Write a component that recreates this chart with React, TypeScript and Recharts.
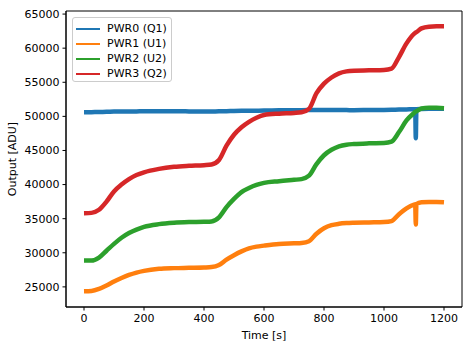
import React from 'react';
import { LineChart, Line, XAxis, YAxis, ReferenceArea } from 'recharts';

// time in seconds
const times = [
  0, 25, 50, 75, 100, 125, 150, 175, 200, 250, 300, 350, 400, 425, 450, 475, 500, 525, 550, 575,
  600, 650, 700, 725, 750, 775, 800, 825, 850, 875, 900, 950, 1000, 1025, 1050, 1075, 1100, 1104,
  1106, 1108, 1125, 1150, 1175, 1200,
];

const pwr0 = [
  50600, 50620, 50650, 50660, 50700, 50700, 50720, 50730, 50750, 50750, 50750, 50730, 50700, 50720,
  50740, 50760, 50800, 50820, 50830, 50840, 50850, 50880, 50900, 50910, 50920, 50930, 50950, 50940,
  50930, 50920, 50900, 50930, 50950, 50970, 51000, 51020, 51050, 51050, 46800, 51050, 51080, 51100,
  51100, 51100,
];

const pwr1 = [
  24350, 24400, 24700, 25200, 25800, 26300, 26750, 27100, 27350, 27650, 27750, 27800, 27850, 27900,
  28200, 29000, 29650, 30200, 30650, 30900, 31050, 31300, 31400, 31450, 31700, 32800, 33600, 34050,
  34250, 34350, 34400, 34450, 34500, 34650, 35650, 36500, 37050, 37100, 34150, 37150, 37400, 37450,
  37450, 37400,
];

const pwr2 = [
  28850, 28850, 29300, 30300, 31300, 32200, 32900, 33400, 33800, 34200, 34400, 34500, 34550, 34600,
  35200, 36700, 37900, 38900, 39500, 39950, 40250, 40500, 40700, 40800, 41300, 43000, 44300, 45100,
  45600, 45850, 45950, 46050, 46100, 46300, 47700, 49400, 50500, 50650, 50700, 50750, 51150, 51250,
  51250, 51200,
];

const pwr3 = [
  35800, 35850, 36300, 37500, 39000, 40000, 40800, 41400, 41800, 42300, 42600, 42750, 42850, 42950,
  43600, 45700, 47300, 48400, 49200, 49800, 50200, 50400, 50500, 50600, 51100, 53400, 54800, 55700,
  56300, 56600, 56700, 56750, 56800, 57000, 58700, 60700, 62100, 62250, 62300, 62350, 62900, 63150,
  63200, 63200,
];

const xTicks = [0, 200, 400, 600, 800, 1000, 1200];
const yTicks = [25000, 30000, 35000, 40000, 45000, 50000, 55000, 60000, 65000];
const xDomain = [-60, 1260];
const yDomain = [22050, 65450];

const series = [
  { key: 'pwr0', name: 'PWR0 (Q1)', color: '#1f77b4' },
  { key: 'pwr1', name: 'PWR1 (U1)', color: '#ff7f0e' },
  { key: 'pwr2', name: 'PWR2 (U2)', color: '#2ca02c' },
  { key: 'pwr3', name: 'PWR3 (Q2)', color: '#d62728' },
];

const data = times.map((t, i) => ({
  t,
  pwr0: pwr0[i],
  pwr1: pwr1[i],
  pwr2: pwr2[i],
  pwr3: pwr3[i],
}));

const font = 'DejaVu Sans, sans-serif';
const tickStyle = { fontSize: 11, fill: '#000', fontFamily: font };

const App: React.FC = () => {
  return (
    <div style={{ position: 'absolute', left: 0, top: 0, width: 473, height: 347, background: '#fff' }}>
      <LineChart
        width={473}
        height={347}
        data={data}
        margin={{ top: 11, right: 11, left: 0, bottom: 0 }}
      >
        <XAxis
          dataKey="t"
          type="number"
          domain={xDomain}
          ticks={xTicks}
          tick={tickStyle}
          tickSize={3.5}
          tickMargin={4}
          height={40}
          stroke="#000"
          allowDataOverflow
          label={{ value: 'Time [s]', position: 'insideBottom', offset: 8, style: { ...tickStyle, textAnchor: 'middle' } }}
        />
        <YAxis
          type="number"
          domain={yDomain}
          ticks={yTicks}
          tick={tickStyle}
          tickSize={3.5}
          tickMargin={3}
          width={66}
          stroke="#000"
          allowDataOverflow
          label={{ value: 'Output [ADU]', angle: -90, position: 'insideLeft', offset: 12, style: { ...tickStyle, textAnchor: 'middle' } }}
        />
        {series.map((s) => (
          <Line
            key={s.key}
            dataKey={s.key}
            name={s.name}
            stroke={s.color}
            strokeWidth={4.5}
            dot={false}
            type="monotone"
            isAnimationActive={false}
          />
        ))}
        <ReferenceArea
          x1={xDomain[0]}
          x2={xDomain[1]}
          y1={yDomain[0]}
          y2={yDomain[1]}
          fill="none"
          stroke="#000"
          strokeWidth={1}
          ifOverflow="visible"
        />
      </LineChart>
      <div
        style={{
          position: 'absolute',
          left: 72,
          top: 17,
          width: 100,
          height: 65,
          boxSizing: 'border-box',
          border: '1px solid #ccc',
          borderRadius: 3,
          background: 'rgba(255,255,255,0.8)',
          fontFamily: font,
          fontSize: 11,
          paddingTop: 3,
        }}
      >
        {series.map((s) => (
          <div key={s.key} style={{ display: 'flex', alignItems: 'center', height: 15, marginLeft: 3 }}>
            <div style={{ width: 24, height: 2, background: s.color, marginRight: 7 }} />
            <span>{s.name}</span>
          </div>
        ))}
      </div>
    </div>
  );
};

export default App;
